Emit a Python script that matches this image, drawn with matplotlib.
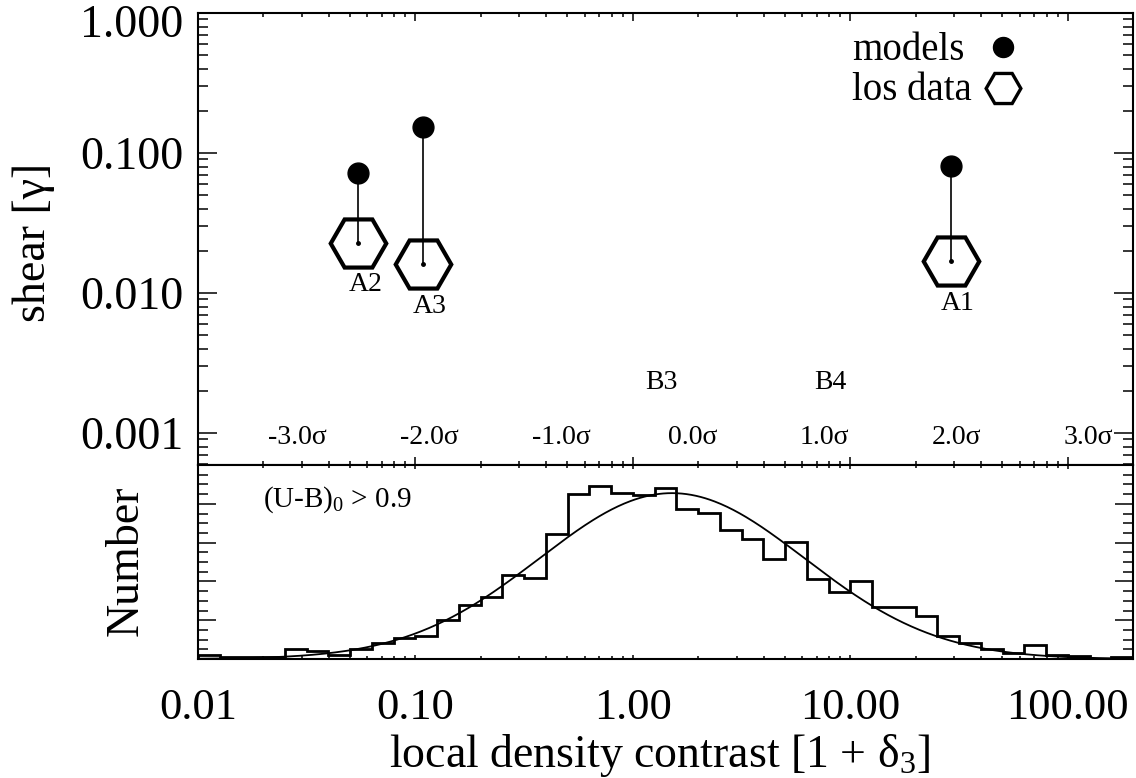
import matplotlib
matplotlib.use("Agg")
import matplotlib.pyplot as plt
import numpy as np
from matplotlib.ticker import (FixedLocator, FixedFormatter, LogLocator,
                               NullFormatter, MultipleLocator)

plt.rcParams["font.family"] = ["Liberation Serif", "DejaVu Serif"]
plt.rcParams["mathtext.fontset"] = "custom"
plt.rcParams["mathtext.rm"] = "Liberation Serif"
plt.rcParams["mathtext.it"] = "Liberation Serif:italic"
plt.rcParams["mathtext.default"] = "regular"

# ---- data ----
field_names = ["A1", "A2", "A3"]
field_density = [29.0, 0.0546, 0.108]      # 1 + delta_3
model_shear = [0.0807, 0.0716, 0.154]
los_shear = [0.0168, 0.0229, 0.0160]

empty_names = ["B3", "B4"]                  # fields without a shear point
empty_density = [1.26, 7.5]
empty_label_y = 0.00231

# histogram of 1 + delta_3, bins of 0.1 dex from 10^-2 to 10^2.3
hist_log_edges = np.linspace(-2.0, 2.3, 44)
hist_counts = [2.2, 1, 1, 1, 5.1, 3.9, 2.2, 5.1, 8.5, 10.8,
               11.6, 20.2, 27.9, 32.1, 43.2, 42.0, 64.3, 85.1, 89.4, 85.6,
               84.6, 88.0, 77.1, 75.4, 66.7, 61.7, 51.8, 60.2, 41.2, 34.7,
               40.0, 27.0, 27.0, 22.2, 12.1, 8.2, 5.1, 3.1, 7.2, 1.9,
               1.4, 0, 1.0]

# log-normal fit drawn over the histogram
fit_amp = 85.5
fit_mu = 0.18        # log10
fit_sigma = 0.61     # dex

sigma_steps = [-3, -2, -1, 0, 1, 2, 3]
sigma_labels = ["-3.0σ", "-2.0σ", "-1.0σ", "0.0σ", "1.0σ", "2.0σ", "3.0σ"]
sigma_label_mu = 0.276
sigma_label_step = 0.606

x_ticks = [0.01, 0.1, 1.0, 10.0, 100.0]
x_tick_labels = ["0.01", "0.10", "1.00", "10.00", "100.00"]
y_ticks = [1.0, 0.1, 0.01, 0.001]
y_tick_labels = ["1.000", "0.100", "0.010", "0.001"]

W, H = 1136, 778
fig = plt.figure(figsize=(W / 100, H / 100), dpi=100)

left, right = 198, 1133
ax1 = fig.add_axes([left / W, 1 - 465 / H, (right - left) / W, (465 - 13) / H])
ax2 = fig.add_axes([left / W, 1 - 659 / H, (right - left) / W, (659 - 465) / H])

xlim = (10 ** hist_log_edges[0], 10 ** hist_log_edges[-1])

for ax in (ax1, ax2):
    ax.set_xscale("log")
    ax.set_xlim(*xlim)
    ax.xaxis.set_major_locator(FixedLocator(x_ticks))
    ax.xaxis.set_minor_locator(LogLocator(base=10, subs=np.arange(2, 10)))
    ax.xaxis.set_minor_formatter(NullFormatter())
    for sp in ax.spines.values():
        sp.set_linewidth(1.5)

# ---- upper panel: shear ----
ax1.set_yscale("log")
ax1.set_ylim(10 ** -3.229, 1.0)
ax1.yaxis.set_major_locator(FixedLocator(y_ticks))
ax1.yaxis.set_major_formatter(FixedFormatter([""] + y_tick_labels[1:]))
ax1.yaxis.set_minor_locator(LogLocator(base=10, subs=np.arange(2, 10)))
ax1.yaxis.set_minor_formatter(NullFormatter())
ax1.tick_params(axis="x", which="both", direction="in", top=True, bottom=True,
                labelbottom=False, width=1.1)
ax1.tick_params(axis="x", which="major", length=5.8)
ax1.tick_params(axis="x", which="minor", length=2.9)
ax1.tick_params(axis="y", which="both", direction="in", left=True, right=True,
                width=1.1, labelsize=33, pad=10.5)
ax1.tick_params(axis="y", which="major", length=13.5)
ax1.tick_params(axis="y", which="minor", length=7)
ax1.annotate(y_tick_labels[0], xy=(0, 1), xycoords="axes fraction",
             xytext=(-10.5, -9), textcoords="offset points",
             ha="right", va="center", fontsize=33)

for name, x, m, s in zip(field_names, field_density, model_shear, los_shear):
    ax1.plot([x, x], [m, s], color="k", lw=1.2, zorder=3)
    ax1.plot(x, s, marker="H", ms=40, mfc="none", mec="k", mew=3,
             ls="none", zorder=2)
    ax1.plot(x, s, marker="o", ms=2.5, color="k", ls="none", zorder=4)
    ax1.plot(x, m, marker="o", ms=15, color="k", ls="none", zorder=4)
    ax1.annotate(name, (x, s), xytext=(5, -30), textcoords="offset points",
                 ha="center", va="center", fontsize=20)

for name, x in zip(empty_names, empty_density):
    ax1.annotate(name, (x, empty_label_y), xytext=(5, 0),
                 textcoords="offset points", ha="center", va="center",
                 fontsize=20)

for step, lab in zip(sigma_steps, sigma_labels):
    ax1.text(10 ** (sigma_label_mu + sigma_label_step * step), 10 ** -3.03, lab,
             ha="center", va="center", fontsize=20)

# legend
ax1.text(0.6995, 0.896, "models", transform=ax1.transAxes, fontsize=28,
         ha="left", va="baseline")
ax1.text(0.6995, 0.8075, "los data", transform=ax1.transAxes, fontsize=28,
         ha="left", va="baseline")
ax1.plot([0.861], [0.9248], marker="o", ms=14.4, color="k", ls="none",
         transform=ax1.transAxes, clip_on=False)
ax1.plot([0.861], [0.834], marker="H", ms=25, mfc="none", mec="k", mew=2.4,
         ls="none", transform=ax1.transAxes, clip_on=False)

# ---- lower panel: histogram ----
ax2.stairs(hist_counts, 10 ** hist_log_edges, color="k", lw=2.0, baseline=0)
xx = np.logspace(hist_log_edges[0], hist_log_edges[-1], 600)
ax2.plot(xx, fit_amp * np.exp(-0.5 * ((np.log10(xx) - fit_mu) / fit_sigma) ** 2),
         color="k", lw=1.3)
ax2.set_ylim(0, 100)
ax2.yaxis.set_major_locator(MultipleLocator(20))
ax2.yaxis.set_minor_locator(MultipleLocator(5))
ax2.yaxis.set_major_formatter(NullFormatter())
ax2.xaxis.set_major_formatter(FixedFormatter(x_tick_labels))
ax2.tick_params(axis="x", which="both", direction="in", top=True, bottom=True,
                width=1.1, labelsize=32, pad=20.9)
ax2.tick_params(axis="x", which="major", length=3.1)
ax2.tick_params(axis="x", which="minor", length=2.0)
ax2.tick_params(axis="y", which="both", direction="in", left=True, right=True,
                width=1.1)
ax2.tick_params(axis="y", which="major", length=13)
ax2.tick_params(axis="y", which="minor", length=7)
ax2.text(0.0695, 0.82, r"(U-B$)_0$ > 0.9", transform=ax2.transAxes,
         fontsize=21, ha="left", va="center")

# axis titles
fig.text(34 / W, 1 - 242 / H, "shear [γ]", rotation=90, ha="center",
         va="center", fontsize=33)
fig.text(126 / W, 1 - 561 / H, "Number", rotation=90, ha="center",
         va="center", fontsize=33)
fig.text(660 / W, 1 - 767 / H, r"local density contrast [1 + $δ_3$]",
         ha="center", va="baseline", fontsize=33)

fig.savefig("out.png", dpi=100)
plt.close(fig)
